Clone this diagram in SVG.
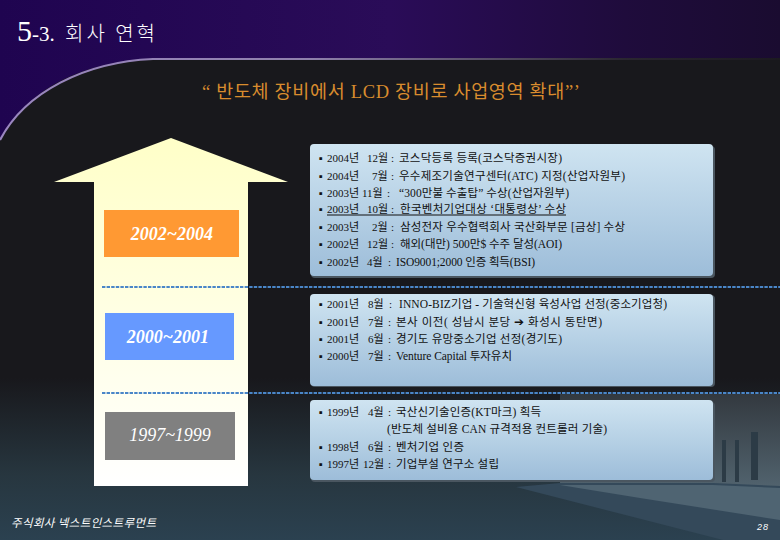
<svg xmlns="http://www.w3.org/2000/svg" width="780" height="540" viewBox="0 0 780 540">
<defs>
<linearGradient id="bg" x1="0" y1="0" x2="0" y2="1"><stop offset="0" stop-color="#18181c"/><stop offset="0.7" stop-color="#18181c"/><stop offset="0.88" stop-color="#27363f"/><stop offset="1" stop-color="#2b4150"/></linearGradient>
<linearGradient id="top" x1="0" y1="0" x2="1" y2="0"><stop offset="0" stop-color="#1f0450"/><stop offset="0.5" stop-color="#2a0c58"/><stop offset="0.8" stop-color="#1f0c3c"/><stop offset="1" stop-color="#1a0c30"/></linearGradient>
<linearGradient id="rim" gradientUnits="userSpaceOnUse" x1="0" y1="0" x2="780" y2="0"><stop offset="0" stop-color="#9a86c0"/><stop offset="0.4" stop-color="#8f80ac"/><stop offset="0.8" stop-color="#2a2630"/><stop offset="1" stop-color="#1c1a20"/></linearGradient>
<linearGradient id="card" x1="0" y1="0" x2="0" y2="1"><stop offset="0" stop-color="#cfe4f1"/><stop offset="1" stop-color="#9dbdd9"/></linearGradient>
<linearGradient id="arrow" x1="0" y1="0" x2="0" y2="1"><stop offset="0" stop-color="#ffffc8"/><stop offset="1" stop-color="#ffffff"/></linearGradient>
<linearGradient id="bld" x1="0" y1="0" x2="0" y2="1"><stop offset="0" stop-color="#33393f"/><stop offset="1" stop-color="#52646f"/></linearGradient>
</defs>
<style>
.card{fill:url(#card)}
.shadow{fill:#4a5660}
.t{font-family:"Liberation Serif","Noto Sans CJK KR",serif;font-size:11px;fill:#111}
.d{font-family:"Liberation Serif","Noto Sans CJK KR",serif;font-size:11.5px;fill:#111}
.yr{font-family:"Liberation Serif",serif;font-size:18px;font-style:italic;font-weight:bold;fill:#fff;text-anchor:middle}
.dash{stroke:#4a86c8;stroke-width:1.8;stroke-dasharray:3.4 1.2;fill:none}
</style>
<g id="background">
<rect width="780" height="540" fill="url(#bg)"/>
<path d="M0 0H780V59H153C85 62 30 85 0 140Z" fill="url(#top)"/>
<path d="M0 140C25 92 85 62 153 59H780" fill="none" stroke="url(#rim)" stroke-width="2.2"/>
<path d="M560 394H780V490H560Z" fill="url(#bld)"/>
<path d="M722 440h4v42h-4zM735 440h4v42h-4zM751 432h7v48h-7z" fill="#2c3b46"/>
<path d="M516 487L560 483H713L780 486V540H723Z" fill="#34495a"/>
<path d="M560 485H713L780 488V520L640 498Z" fill="#4f6472"/>
</g>
<g id="title">
<text x="17" y="41" font-family="'Liberation Serif',serif" font-size="30" fill="#fff">5<tspan font-size="21">-3.</tspan></text>
<text x="65" y="41" font-family="'Noto Sans CJK KR',sans-serif" font-size="20" font-weight="300" fill="#fff" textLength="90" lengthAdjust="spacing">회사 연혁</text>
</g>
<g id="headline">
<text x="202" y="98" font-family="'Liberation Serif','Noto Sans CJK KR',serif" font-size="18.5" fill="#d98c2e" textLength="378" lengthAdjust="spacing">“ 반도체 장비에서 LCD 장비로 사업영역 확대”’</text>
</g>
<g id="arrow-shape">
<path d="M171 138L288 182H248V486H94V182H54Z" fill="url(#arrow)"/>
</g>
<g id="period-2002">
<rect x="104" y="210" width="135" height="47" fill="#ff9933"/>
<text class="yr" x="172" y="240">2002~2004</text>
</g>
<g id="period-2000">
<rect x="105" y="313" width="129" height="47" fill="#6699ff"/>
<text class="yr" x="168" y="343">2000~2001</text>
</g>
<g id="period-1997">
<rect x="105" y="412" width="130" height="48" fill="#808080"/>
<text class="yr" x="170" y="441" style="font-weight:normal">1997~1999</text>
</g>
<g id="connectors">
<path class="dash" d="M102 287H780"/>
<path class="dash" d="M102 393H780"/>
</g>
<g id="card-2002">
<rect class="shadow" x="311" y="146" width="404" height="132" rx="4"/>
<rect class="card" x="310" y="144" width="403" height="132" rx="4"/>
<text class="t" x="319" y="162">▪</text><text class="t" x="327" y="162">2004년</text><text class="t" x="367" y="162">12월</text><text class="t" x="391" y="162">:</text><text class="d" x="399" y="162" textLength="163">코스닥등록 등록(코스닥증권시장)</text>
<text class="t" x="319" y="180">▪</text><text class="t" x="327" y="180">2004년</text><text class="t" x="372" y="180">7월</text><text class="t" x="391" y="180">:</text><text class="d" x="399" y="180" textLength="226">우수제조기술연구센터(ATC) 지정(산업자원부)</text>
<text class="t" x="319" y="197">▪</text><text class="t" x="327" y="197">2003년</text><text class="t" x="362" y="197">11월</text><text class="t" x="387" y="197">:</text><text class="d" x="399" y="197" textLength="170">“300만불 수출탑” 수상(산업자원부)</text>
<text class="t" x="319" y="213">▪</text><text class="t" x="327" y="213">2003년</text><text class="t" x="367" y="213">10월</text><text class="t" x="391" y="213">:</text><text class="d" x="400" y="213" textLength="166">한국벤처기업대상 ‘대통령상’ 수상</text>
<path d="M327 215H566" stroke="#111" stroke-width="1.2"/>
<text class="t" x="319" y="231">▪</text><text class="t" x="327" y="231">2003년</text><text class="t" x="372" y="231">2월</text><text class="t" x="391" y="231">:</text><text class="d" x="400" y="231" textLength="225">삼성전자 우수협력회사 국산화부문 [금상] 수상</text>
<text class="t" x="319" y="248">▪</text><text class="t" x="327" y="248">2002년</text><text class="t" x="367" y="248">12월</text><text class="t" x="391" y="248">:</text><text class="d" x="400" y="248" textLength="162">해외(대만) 500만$ 수주 달성(AOI)</text>
<text class="t" x="319" y="266">▪</text><text class="t" x="327" y="266">2002년</text><text class="t" x="367" y="266">4월</text><text class="t" x="388" y="266">:</text><text class="d" x="396" y="266" textLength="139">ISO9001;2000 인증 획득(BSI)</text>
</g>
<g id="card-2000">
<rect class="shadow" x="311" y="295" width="404" height="92" rx="4"/>
<rect class="card" x="310" y="294" width="403" height="92" rx="4"/>
<text class="t" x="319" y="308">▪</text><text class="t" x="327" y="308">2001년</text><text class="t" x="368" y="308">8월</text><text class="t" x="389" y="308">:</text><text class="d" x="399" y="308" textLength="268">INNO-BIZ기업 - 기술혁신형 육성사업 선정(중소기업청)</text>
<text class="t" x="319" y="326">▪</text><text class="t" x="327" y="326">2001년</text><text class="t" x="368" y="326">7월</text><text class="t" x="388" y="326">:</text><text class="d" x="396" y="326" textLength="206">본사  이전( 성남시 분당 ➔ 화성시 동탄면)</text>
<text class="t" x="319" y="343">▪</text><text class="t" x="327" y="343">2001년</text><text class="t" x="368" y="343">6월</text><text class="t" x="388" y="343">:</text><text class="d" x="396" y="343" textLength="166">경기도 유망중소기업 선정(경기도)</text>
<text class="t" x="319" y="360">▪</text><text class="t" x="327" y="360">2000년</text><text class="t" x="368" y="360">7월</text><text class="t" x="388" y="360">:</text><text class="d" x="396" y="360" textLength="116">Venture Capital 투자유치</text>
</g>
<g id="card-1997">
<rect class="shadow" x="311" y="402" width="404" height="80" rx="4"/>
<rect class="card" x="310" y="400" width="403" height="80" rx="4"/>
<text class="t" x="319" y="416">▪</text><text class="t" x="327" y="416">1999년</text><text class="t" x="368" y="416">4월</text><text class="t" x="388" y="416">:</text><text class="d" x="396" y="416" textLength="145">국산신기술인증(KT마크) 획득</text>
<text class="d" x="387" y="433" textLength="220">(반도체 설비용 CAN 규격적용 컨트롤러 기술)</text>
<text class="t" x="319" y="451">▪</text><text class="t" x="327" y="451">1998년</text><text class="t" x="368" y="451">6월</text><text class="t" x="388" y="451">:</text><text class="d" x="396" y="451" textLength="68">벤처기업 인증</text>
<text class="t" x="319" y="468">▪</text><text class="t" x="327" y="468">1997년</text><text class="t" x="363" y="468">12월</text><text class="t" x="388" y="468">:</text><text class="d" x="396" y="468" textLength="103">기업부설 연구소 설립</text>
</g>
<g id="footer">
<text x="11" y="527" font-family="'Noto Sans CJK KR',sans-serif" font-size="11.5" font-style="italic" fill="#fff" textLength="145">주식회사 넥스트인스트루먼트</text>
<text x="757" y="530" font-family="'Liberation Sans',sans-serif" font-size="9" font-style="italic" fill="#fff" textLength="11">28</text>
</g>
</svg>
